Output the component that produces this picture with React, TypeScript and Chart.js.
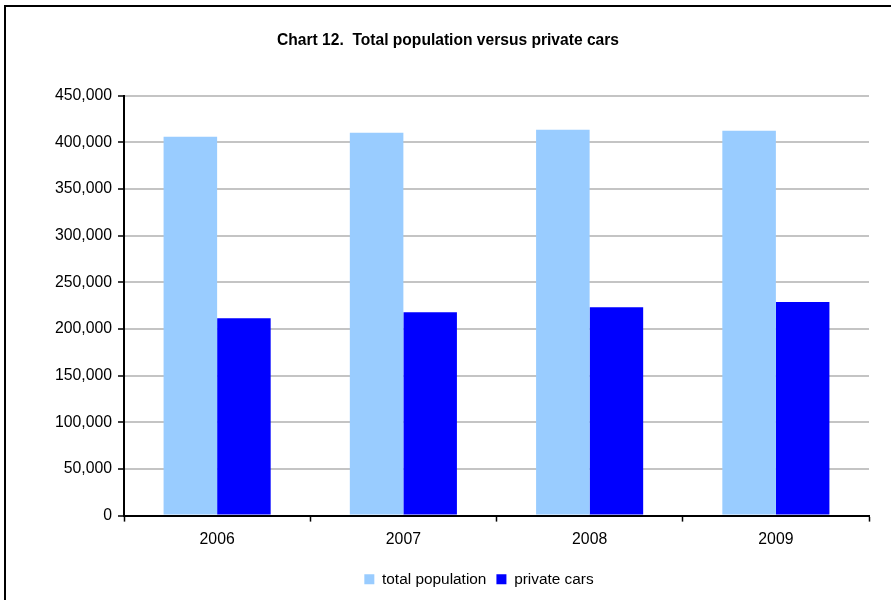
import React, { useEffect, useRef } from "react";
import { Chart, registerables } from "chart.js";

Chart.register(...registerables);

const categories = ["2006", "2007", "2008", "2009"];
const totalPopulation = [406000, 410300, 413500, 412400];
const privateCars = [211600, 218000, 223400, 228800];
const seriesNames = ["total population", "private cars"];
const titleText = "Chart 12.  Total population versus private cars";

const borderPlugin = {
  id: "outerBorder",
  beforeDraw(chart: any) {
    const ctx = chart.ctx;
    ctx.save();
    ctx.fillStyle = "#ffffff";
    ctx.fillRect(0, 0, chart.width, chart.height);
    ctx.strokeStyle = "#000000";
    ctx.lineWidth = 2;
    ctx.beginPath();
    ctx.moveTo(5, chart.height + 10);
    ctx.lineTo(5, 6);
    ctx.lineTo(chart.width + 10, 6);
    ctx.stroke();
    ctx.restore();
  },
};

// Center the title and legend where the original chart places them
const centerPlugin = {
  id: "centerBlocks",
  afterLayout(chart: any) {
    const t = chart.titleBlock;
    if (t) {
      const w = t.right - t.left;
      t.left = 448 - w / 2;
      t.right = 448 + w / 2;
    }
    const l = chart.legend;
    if (l) {
      const w = l.right - l.left;
      l.left = 479 - w / 2;
      l.right = 479 + w / 2;
    }
  },
};

export default function App() {
  const ref = useRef<HTMLCanvasElement | null>(null);
  useEffect(() => {
    if (!ref.current) return;
    const font = "'Liberation Sans', Arial, Helvetica, sans-serif";
    const chart = new Chart(ref.current, {
      type: "bar",
      data: {
        labels: categories,
        datasets: [
          {
            label: seriesNames[0],
            data: totalPopulation,
            backgroundColor: "#99ccff",
            borderWidth: 0,
          },
          {
            label: seriesNames[1],
            data: privateCars,
            backgroundColor: "#0000ff",
            borderWidth: 0,
          },
        ],
      },
      options: {
        responsive: false,
        animation: false,
        layout: { padding: { left: 0, right: 22, top: 0, bottom: 3 } },
        datasets: { bar: { barPercentage: 1, categoryPercentage: 0.575 } },
        plugins: {
          title: {
            display: true,
            text: titleText,
            color: "#000",
            font: { family: font, size: 15.6, weight: "bold" },
            padding: { top: 31, bottom: 46 },
          },
          legend: {
            position: "bottom",
            labels: {
              color: "#000",
              font: { family: font, size: 15.4 },
              boxWidth: 10,
              boxHeight: 10,
              padding: 10,
            },
          },
          tooltip: { enabled: false },
        },
        scales: {
          x: {
            offset: true,
            grid: {
              offset: true,
              drawOnChartArea: false,
              drawTicks: true,
              tickLength: 6,
              tickColor: "#000",
              tickWidth: 1.5,
              color: "#000",
            },
            border: { color: "#000", width: 2 },
            ticks: { color: "#000", font: { family: font, size: 15.8 }, padding: 9 },
            afterFit: (s: any) => {
              s.height = 46;
            },
          },
          y: {
            min: 0,
            max: 450000,
            grid: {
              color: "#c4c4c4",
              lineWidth: 2,
              tickLength: 6,
              tickColor: "#000",
              tickWidth: 1.5,
            },
            border: { color: "#000", width: 2 },
            ticks: {
              stepSize: 50000,
              color: "#000",
              font: { family: font, size: 15.8 },
              padding: 6,
              callback: (v: any) => Number(v).toLocaleString("en-US"),
            },
            afterFit: (s: any) => {
              s.width = 124;
            },
          },
        },
      },
      plugins: [borderPlugin, centerPlugin],
    });
    return () => chart.destroy();
  }, []);
  return (
    <div style={{ position: "absolute", left: 0, top: 0, width: 891, height: 600 }}>
      <canvas ref={ref} width={891} height={600} style={{ display: "block" }} />
    </div>
  );
}
